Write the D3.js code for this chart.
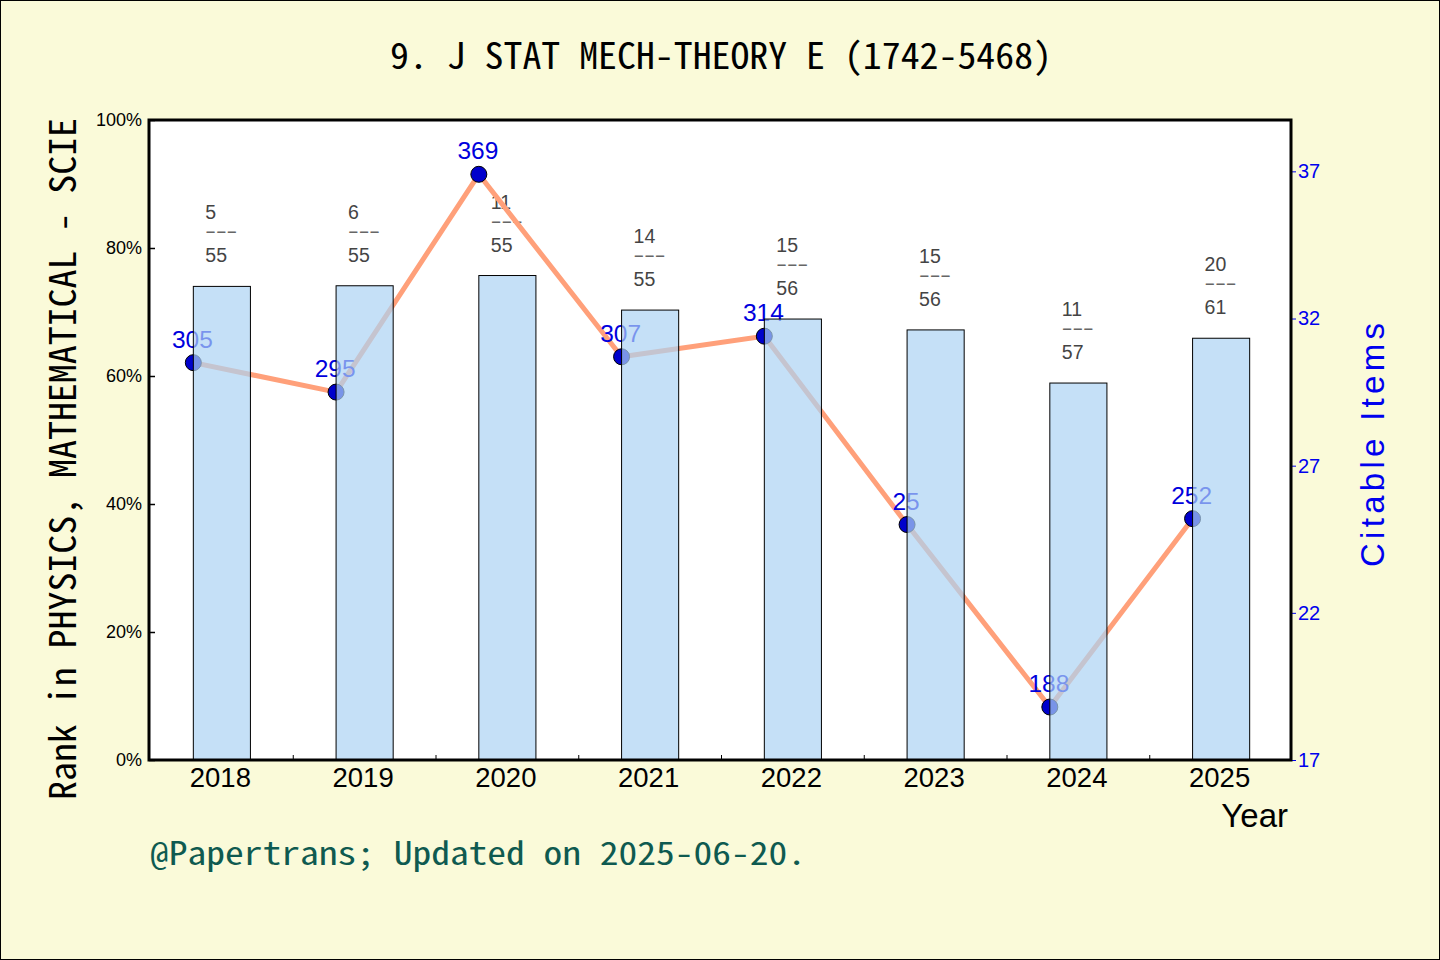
<!DOCTYPE html>
<html>
<head>
<meta charset="utf-8">
<script src="https://cdn.jsdelivr.net/npm/d3@7"></script>
<style>
  html, body { margin: 0; padding: 0; background: #FAFAD9; }
  svg { display: block; }
</style>
</head>
<body>
<svg id="chart" width="1440" height="960"></svg>
<script>
// ---- data ----
const years = ["2018", "2019", "2020", "2021", "2022", "2023", "2024", "2025"];
const barPercent = [74.0, 74.1, 75.7, 70.3, 68.9, 67.2, 58.9, 65.9];
const citableScaled = [30.5, 29.5, 36.9, 30.7, 31.4, 25.0, 18.8, 25.2];
const citableLabels = ["305", "295", "369", "307", "314", "25", "188", "252"];
const ranks = [5, 6, 11, 14, 15, 15, 11, 20];
const totals = [55, 55, 55, 55, 56, 56, 57, 61];
const leftTicks = [0, 20, 40, 60, 80, 100];
const rightTicks = [17, 22, 27, 32, 37];
const rightDomain = [17, 38.745];
const titleText = "9. J STAT MECH-THEORY E (1742-5468)";
const yLeftTitle = "Rank in PHYSICS, MATHEMATICAL - SCIE";
const yRightTitle = "Citable Items";
const xTitle = "Year";
const footerText = "@Papertrans; Updated on 2025-06-20.";

// ---- layout ----
const W = 1440, H = 960;
const L = 149, R = 1291, T = 120, B = 760;
const mono = "'Noto Sans Mono CJK SC', 'DejaVu Sans Mono', 'Liberation Mono', monospace";
const sans = "'Liberation Sans', Arial, sans-serif";

const svg = d3.select("#chart");

svg.append("rect").attr("x", 0.5).attr("y", 0.5).attr("width", W - 1).attr("height", H - 1)
  .attr("fill", "#FAFAD9").attr("stroke", "#000").attr("stroke-width", 1);

const x = d3.scaleBand().domain(years).range([L, R]).paddingInner(0).paddingOuter(0);
const yL = d3.scaleLinear().domain([0, 100]).range([B, T]);
const yR = d3.scaleLinear().domain(rightDomain).range([B, T]);
const bw = x.bandwidth() * 0.4;
const barX = d => x(d) + x.bandwidth() * 0.3 + 1.5;

// plot background
svg.append("rect").attr("x", L).attr("y", T).attr("width", R - L).attr("height", B - T).attr("fill", "#fff");

// rank labels
const rk = svg.append("g");
years.forEach((yr, i) => {
  const top = yL(barPercent[i]);
  const tx = barX(yr) + 12;
  rk.append("text").attr("x", tx).attr("y", top - 67).text(ranks[i])
    .attr("font-family", sans).attr("font-size", 19.5).attr("fill", "#444");
  rk.append("text").attr("x", tx).attr("y", top - 50).text("---")
    .attr("font-family", sans).attr("font-size", 12).attr("font-weight", "bold").attr("fill", "#666")
    .attr("textLength", 32).attr("lengthAdjust", "spacingAndGlyphs");
  rk.append("text").attr("x", tx).attr("y", top - 24).text(totals[i])
    .attr("font-family", sans).attr("font-size", 19.5).attr("fill", "#444");
});

// line
const line = d3.line().x((d, i) => barX(years[i])).y(d => yR(d));
svg.append("path").datum(citableScaled).attr("d", line)
  .attr("fill", "none").attr("stroke", "#FFA07A").attr("stroke-width", 5).attr("stroke-linejoin", "round");

// points
svg.append("g").selectAll("circle").data(citableScaled).join("circle")
  .attr("cx", (d, i) => barX(years[i])).attr("cy", d => yR(d)).attr("r", 8)
  .attr("fill", "#0000CC").attr("stroke", "#000").attr("stroke-width", 1);

// point labels
svg.append("g").selectAll("text").data(citableScaled).join("text")
  .attr("x", (d, i) => barX(years[i]) - 1).attr("y", d => yR(d) - 15)
  .attr("text-anchor", "middle").attr("font-family", sans).attr("font-size", 24.5)
  .attr("fill", "#0000DD").text((d, i) => citableLabels[i]);

// bars (semi-transparent, over the line)
const bars = svg.append("g");
bars.selectAll("rect.fill").data(barPercent).join("rect").attr("class", "fill")
  .attr("x", (d, i) => barX(years[i])).attr("y", d => yL(d))
  .attr("width", bw).attr("height", d => B - yL(d))
  .attr("fill", "#ACD3F4").attr("fill-opacity", 0.7);
bars.selectAll("rect.edge").data(barPercent).join("rect").attr("class", "edge")
  .attr("x", (d, i) => barX(years[i])).attr("y", d => yL(d))
  .attr("width", bw).attr("height", d => B - yL(d))
  .attr("fill", "none").attr("stroke", "#000").attr("stroke-width", 1);

// left axis
const axL = svg.append("g").attr("transform", `translate(${L},0)`)
  .call(d3.axisLeft(yL).tickValues(leftTicks).tickSize(-6).tickPadding(7).tickFormat(d => d + "%"));
axL.select(".domain").remove();
axL.selectAll("line").attr("stroke", "#000").attr("stroke-width", 1.5);
axL.selectAll("text").attr("font-family", sans).attr("font-size", 18).attr("fill", "#000");

// right axis
const axR = svg.append("g").attr("transform", `translate(${R},0)`)
  .call(d3.axisRight(yR).tickValues(rightTicks).tickSize(5).tickPadding(2));
axR.select(".domain").remove();
axR.selectAll("line").attr("stroke", "#0000EE").attr("stroke-width", 1);
axR.selectAll("text").attr("font-family", sans).attr("font-size", 20).attr("fill", "#0000EE");

// bottom axis labels
const axB = svg.append("g").attr("transform", `translate(0,${B})`)
  .call(d3.axisBottom(x).tickSize(0).tickPadding(7.5));
axB.select(".domain").remove();
axB.selectAll("text").attr("font-family", sans).attr("font-size", 27.5).attr("fill", "#000");

// minor ticks at band boundaries (inside)
svg.append("g").selectAll("line").data(years.slice(1)).join("line")
  .attr("x1", d => x(d) + 1.5).attr("x2", d => x(d) + 1.5).attr("y1", B).attr("y2", B - 5)
  .attr("stroke", "#000").attr("stroke-width", 1);

// frame
svg.append("rect").attr("x", L).attr("y", T).attr("width", R - L).attr("height", B - T)
  .attr("fill", "none").attr("stroke", "#000").attr("stroke-width", 3);

// title
svg.append("text").attr("x", 721).attr("y", 69).attr("text-anchor", "middle")
  .attr("font-family", mono).attr("font-size", 36).attr("fill", "#000")
  .attr("textLength", 662).attr("lengthAdjust", "spacingAndGlyphs").text(titleText);

// left y title
svg.append("text").attr("transform", "translate(76,459) rotate(-90)").attr("text-anchor", "middle")
  .attr("font-family", mono).attr("font-size", 36).attr("fill", "#000")
  .attr("textLength", 682).attr("lengthAdjust", "spacingAndGlyphs").text(yLeftTitle);

// right y title
svg.append("text").attr("transform", "translate(1384,445) rotate(-90)").attr("text-anchor", "middle")
  .attr("font-family", sans).attr("font-size", 33).attr("fill", "#0000EE")
  .attr("textLength", 244).attr("lengthAdjust", "spacing").text(yRightTitle);

// x title
svg.append("text").attr("x", 1288).attr("y", 827).attr("text-anchor", "end")
  .attr("font-family", sans).attr("font-size", 33).attr("fill", "#000").text(xTitle);

// footer
svg.append("text").attr("x", 150).attr("y", 865)
  .attr("font-family", mono).attr("font-size", 32).attr("fill", "#0F5A50")
  .attr("textLength", 656).attr("lengthAdjust", "spacingAndGlyphs").text(footerText);
</script>
</body>
</html>
